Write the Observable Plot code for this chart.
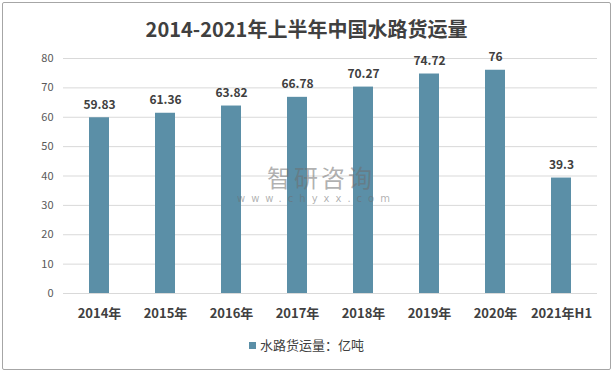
<!DOCTYPE html>
<html>
<head>
<meta charset="utf-8">
<script src="https://cdn.jsdelivr.net/npm/d3@7"></script>
<script src="https://cdn.jsdelivr.net/npm/@observablehq/plot@0.6"></script>
<style>
  body { margin: 0; background: #fff; font-family: "Noto Sans CJK SC", "Noto Sans", sans-serif; }
  #wrap { position: relative; width: 613px; height: 371px; overflow: hidden; background: #fff; }
  #border { position: absolute; left: 2px; top: 2px; width: 609px; height: 368px; box-sizing: border-box; border: 1px solid #a6a6a6; border-radius: 2px; pointer-events: none; }
  #title { position: absolute; left: 0; width: 613px; top: 14px; height: 30px; line-height: 30px; text-align: center; font-weight: bold; font-size: 20px; color: #404040; }
  #chart { position: absolute; left: 0; top: 0; }
  #legend { position: absolute; top: 336px; left: 0; width: 613px; height: 18px; line-height: 18px; text-align: center; font-size: 13px; color: #404040; }
  #legend .sw { display: inline-block; width: 7px; height: 7px; background: #5b8fa7; margin-right: 4px; vertical-align: 1px; }
  #wm { position: absolute; left: 232px; top: 163px; width: 150px; color: rgba(110,110,110,0.55); pointer-events: none; z-index: 2; }
  #wm .a { font-size: 24px; height: 28px; line-height: 28px; padding-left: 35px; letter-spacing: 3px; }
  #wm .b { font-size: 10px; height: 12px; line-height: 12px; letter-spacing: 6px; padding-left: 5px; margin-top: 2px; font-family: "DejaVu Sans", sans-serif; }
</style>
</head>
<body>
<div id="wrap">
  <div id="title">2014-2021年上半年中国水路货运量</div>
  <div id="chart"></div>
  <div id="wm"><div class="a">智研咨询</div><div class="b">www.chyxx.com</div></div>
  <div id="legend"><span class="sw"></span>水路货运量：亿吨</div>
  <div id="border"></div>
</div>
<script>
const categories = ["2014年", "2015年", "2016年", "2017年", "2018年", "2019年", "2020年", "2021年H1"];
const values = [59.83, 61.36, 63.82, 66.78, 70.27, 74.72, 76, 39.3];
const valueLabels = ["59.83", "61.36", "63.82", "66.78", "70.27", "74.72", "76", "39.3"];
const yTicks = [0, 10, 20, 30, 40, 50, 60, 70, 80];

const data = categories.map((c, i) => ({cat: c, v: values[i], label: valueLabels[i]}));
const barColor = "#5b8fa7";

const chart = Plot.plot({
  width: 613,
  height: 371,
  marginTop: 58,
  marginBottom: 78,
  marginLeft: 63,
  marginRight: 16,
  style: { fontFamily: "\"Noto Sans CJK SC\", \"Noto Sans\", sans-serif", background: "transparent", overflow: "visible" },
  x: { domain: categories, paddingInner: 0.69, paddingOuter: 0.345, label: null },
  y: { domain: [0, 80], label: null },
  marks: [
    Plot.gridY(yTicks, { stroke: "#d9d9d9", strokeOpacity: 1, strokeWidth: 1 }),
    Plot.axisY(yTicks, { tickSize: 0, tickPadding: 10, fontSize: 11, fill: "#595959", label: null }),
    Plot.barY(data, { x: "cat", y: "v", fill: barColor }),
    Plot.text(data, { x: "cat", y: "v", text: "label", dy: -13, fontSize: 12, fontWeight: "bold", fill: "#404040" }),
    Plot.axisX({ tickSize: 0, tickPadding: 15, fontSize: 13, fontWeight: "bold", fill: "#404040", label: null })
  ]
});
document.getElementById("chart").appendChild(chart);
</script>
</body>
</html>
